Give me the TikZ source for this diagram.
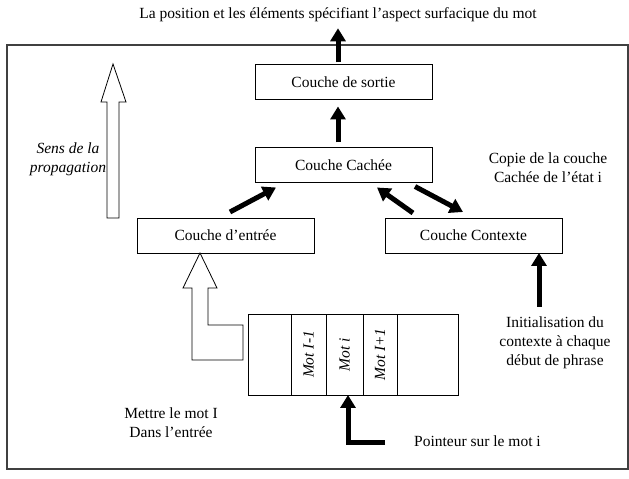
\documentclass[tikz,border=0pt]{standalone}
\usepackage{fontspec}
\setmainfont{Liberation Serif}
\usetikzlibrary{arrows.meta,positioning,calc}
\begin{document}
\begin{tikzpicture}[x=1pt, y=1pt,
every node/.style={font=\fontsize{15.5}{19}\selectfont},
layer/.style={rectangle, draw=black, line width=0.9pt, minimum width=177pt, minimum height=35pt, inner sep=0pt, outer sep=0pt},
cell/.style={rectangle, draw=black, line width=0.9pt, minimum height=81pt, inner sep=0pt, outer sep=0pt},
bigarrow/.style={line width=5pt, -{Triangle[width=15pt, length=13pt]}},
hollow/.style={draw=black, line width=0.8pt, fill=white},
note/.style={align=center, inner sep=0pt},
]
\useasboundingbox (0,0) rectangle (629,479);
\draw[black!75, line width=1.2pt] (7,434) rectangle (628,10);

\node[note] (titre) at (338,464) {La position et les éléments spécifiant l’aspect surfacique du mot};
\node[layer] (sortie) at (343.5,397) {Couche de sortie};
\node[layer] (cachee) at (343.5,314) {Couche Cachée};
\node[layer] (entree) at (225.5,243.5) {Couche d’entrée};
\node[layer] (contexte) at (473.5,243.5) {Couche Contexte};

% memoire des mots
\node[cell, minimum width=43pt, anchor=west] (c0) at (248,124.5) {};
\node[cell, minimum width=35pt] (c1) [right=0pt of c0] {\rotatebox{90}{\textit{Mot I-1}}};
\node[cell, minimum width=37pt] (c2) [right=0pt of c1] {\rotatebox{90}{\textit{Mot i}}};
\node[cell, minimum width=34pt] (c3) [right=0pt of c2] {\rotatebox{90}{\textit{Mot I+1}}};
\node[cell, minimum width=61pt] (c4) [right=0pt of c3] {};

\node[note, font=\fontsize{15.5}{19}\selectfont\itshape] (sens) at (68,319.5) {Sens de la\\propagation};
\node[note] (copie) at (548,311.5) {Copie de la couche\\Cachée de l’état i};
\node[note] (init) at (555,136) {Initialisation du\\contexte à chaque\\début de phrase};
\node[note] (mettre) at (171,56) {Mettre le mot I\\Dans l’entrée};
\node[note, anchor=west] (pointeur) at (414,38) {Pointeur sur le mot i};

\draw[bigarrow, shorten <=2pt, shorten >=6pt] (sortie.north -| titre) -- (titre.south);
\draw[bigarrow, shorten <=5pt, shorten >=7pt] (cachee.north -| titre) -- (sortie.south -| titre);
\draw[bigarrow] ([shift={(4.5,6)}]entree.north) -- ([shift={(-67.5,-5)}]cachee.south);
\draw[bigarrow] ([shift={(-60.5,5)}]contexte.north) -- ([shift={(33.5,-5)}]cachee.south);
\draw[bigarrow] ([shift={(71.5,-4)}]cachee.south) -- ([shift={(-10.5,6)}]contexte.north);

\coordinate (initpt) at (539,172);
\draw[bigarrow] (initpt) -- (initpt |- contexte.south);
\coordinate (ptr) at (385,36);
\draw[bigarrow] (ptr) -| ([xshift=3.5pt]c2.south);

% fleches creuses
\draw[hollow] (107,261) -- (119,261) -- (119,377) -- (126,377) -- (113,415)
  -- (101,377) -- (107,377) -- cycle;
\coordinate (tipL) at ([xshift=-25.5pt]entree.south);
\draw[hollow] (tipL) -- ++(17,-35) -- ++(-9,0) -- ++(0,-37) -- ++(35,0)
  -- ++(0,-35) -- ++(-51,0) -- ++(0,72) -- ++(-9,0) -- cycle;
\end{tikzpicture}
\end{document}
